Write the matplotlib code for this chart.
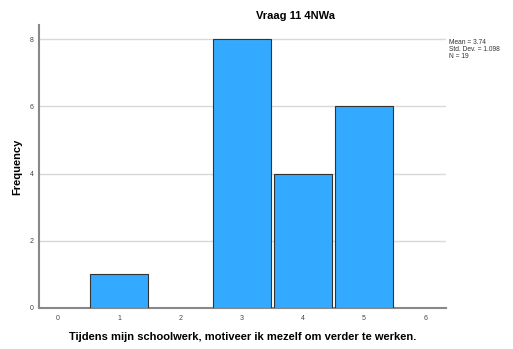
import matplotlib
matplotlib.use('Agg')
import matplotlib.pyplot as plt

plt.rcParams['font.family'] = ['Liberation Sans', 'DejaVu Sans']

# data
scores = [1, 3, 4, 5]
counts = [1, 8, 4, 6]
xticks = [0, 1, 2, 3, 4, 5, 6]
yticks = [0, 2, 4, 6, 8]
stats = 'Mean = 3.74\nStd. Dev. = 1.098\nN = 19'

fig = plt.figure(figsize=(5.13, 3.49), dpi=100)
ax = fig.add_axes([39/513, 1-308/349, (446-39)/513, (308-25)/349])

ax.bar(scores, counts, width=0.95, color='#33aaff', edgecolor='#333333', linewidth=0.8, zorder=3)
ax.set_xlim(-0.31, 6.34)
ax.set_ylim(0, 8.42)
ax.set_xticks(xticks)
ax.set_yticks(yticks)
ax.grid(axis='y', color='#d8d8d8', linewidth=1, zorder=0)
ax.tick_params(length=0, labelsize=5, colors='#444444')
ax.tick_params(axis='x', pad=5)
ax.tick_params(axis='y', pad=4)
for s in ['top', 'right']:
    ax.spines[s].set_visible(False)
for s in ['left', 'bottom']:
    ax.spines[s].set_color('#888888')
    ax.spines[s].set_linewidth(1.5)

ax.set_xlabel('Tijdens mijn schoolwerk, motiveer ik mezelf om verder te werken.',
              fontsize=8, fontweight='bold', labelpad=7)
ax.set_ylabel('Frequency', fontsize=8, fontweight='bold', labelpad=5)
fig.text(295/513, 1-16/349, 'Vraag 11 4NWa', ha='center', va='center', fontsize=8, fontweight='bold')
fig.text(449/513, 1-39/349, stats, ha='left', va='top', fontsize=4.8, color='#333333', linespacing=1.0)

fig.savefig('out.png', dpi=100)
